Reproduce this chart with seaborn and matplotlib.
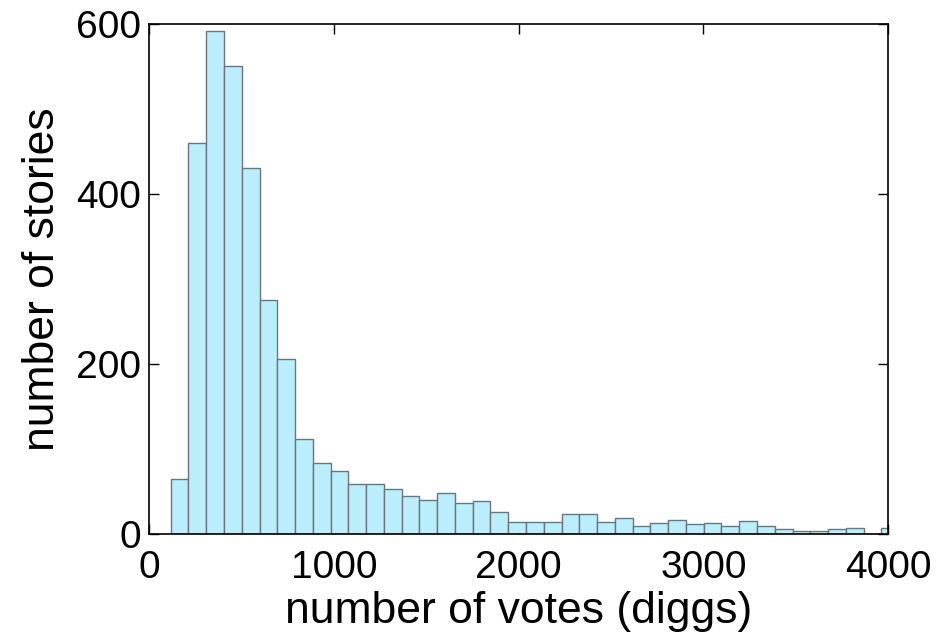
import numpy as np
import pandas as pd
import matplotlib
matplotlib.use("Agg")
import matplotlib.pyplot as plt
import seaborn as sns

# Histogram data (41 bins, width ~96.2 votes, first edge ~116)
bin_start = 116.0
bin_width = 96.2
counts = [65, 460, 592, 550, 431, 275, 206, 111, 83, 74,
          58, 58, 53, 44, 40, 48, 36, 38, 26, 14,
          14, 14, 23, 23, 14, 18, 9, 13, 16, 11,
          13, 9, 15, 9, 5, 3, 3, 5, 7, 0, 7]
x_ticks = [0, 1000, 2000, 3000, 4000]
y_ticks = [0, 200, 400, 600]

edges = bin_start + bin_width * np.arange(len(counts) + 1)
centers = (edges[:-1] + edges[1:]) / 2
df = pd.DataFrame({"votes": centers, "stories": counts})

sns.set_theme(style="white")
plt.rcParams['font.family'] = ['Liberation Sans', 'DejaVu Sans']
plt.rcParams['text.color'] = 'black'
plt.rcParams['axes.labelcolor'] = 'black'
plt.rcParams['xtick.color'] = 'black'
plt.rcParams['ytick.color'] = 'black'

fig = plt.figure(figsize=(9.4, 6.36), dpi=100)
ax = fig.add_axes([0.1588, 0.1608, 0.7859, 0.8015])

sns.histplot(data=df, x="votes", weights="stories", bins=list(edges), ax=ax,
             color="#BBEEFD", alpha=1.0, edgecolor="#6E7478", linewidth=1.0)

ax.set_xlim(0, 4000)
ax.set_ylim(0, 600)
ax.set_xticks(x_ticks)
ax.set_yticks(y_ticks)
ax.set_xlabel("number of votes (diggs)", fontsize=32, labelpad=3)
ax.set_ylabel("number of stories", fontsize=32, labelpad=9)
ax.tick_params(axis="both", which="major", direction="in", length=7, width=1,
               labelsize=28, top=True, right=True, bottom=True, left=True,
               color="black", labelcolor="black")
ax.tick_params(axis="x", pad=12)
ax.tick_params(axis="y", pad=6)
for s in ax.spines.values():
    s.set_visible(True)
    s.set_color("black")
    s.set_linewidth(1.2)

fig.savefig("out.png", dpi=100)
